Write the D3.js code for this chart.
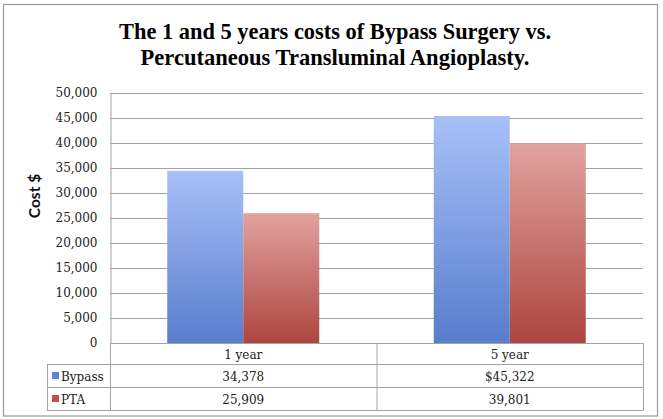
<!DOCTYPE html>
<html>
<head>
<meta charset="utf-8">
<script src="https://cdn.jsdelivr.net/npm/d3@7/dist/d3.min.js"></script>
<style>
  html, body { margin: 0; padding: 0; background: #fff; }
  svg { display: block; }
</style>
</head>
<body>
<svg id="chart" width="663" height="419"></svg>
<script>
const titleLines = ["The 1 and 5 years costs of Bypass Surgery vs.", "Percutaneous Transluminal Angioplasty."];
const categories = ["1 year", "5 year"];
const seriesNames = ["Bypass", "PTA"];
const bypassValues = [34378, 45322];
const ptaValues = [25909, 39801];
const bypassLabels = ["34,378", "$45,322"];
const ptaLabels = ["25,909", "39,801"];
const yTicks = [0, 5000, 10000, 15000, 20000, 25000, 30000, 35000, 40000, 45000, 50000];
const yTitle = "Cost $";

const seriesValues = [bypassValues, ptaValues];
const seriesLabels = [bypassLabels, ptaLabels];

const svg = d3.select("#chart");
const plot = {left: 110, right: 643, top: 92.5, bottom: 343};
const legendLeft = 47;
const rowLines = [343, 364, 387, 410];
const serif = "'DejaVu Serif', serif";
const gray = "#a3a3a3";
const fs = 12;

// gradients
const defs = svg.append("defs");
const grads = [
  {id: "gBypass", top: "#a8c0f8", bottom: "#587dcd"},
  {id: "gPTA", top: "#e2a29e", bottom: "#ad453f"}
];
grads.forEach(g => {
  const lg = defs.append("linearGradient").attr("id", g.id)
    .attr("x1", 0).attr("y1", 0).attr("x2", 0).attr("y2", 1);
  lg.append("stop").attr("offset", "0%").attr("stop-color", g.top);
  lg.append("stop").attr("offset", "100%").attr("stop-color", g.bottom);
});
const colorFill = d3.scaleOrdinal().domain(seriesNames).range(["url(#gBypass)", "url(#gPTA)"]);
const colorKey = d3.scaleOrdinal().domain(seriesNames).range(["#5d82d6", "#c0504d"]);

// outer frame
svg.append("rect").attr("x", 3.5).attr("y", 4.5).attr("width", 654).attr("height", 411.5)
  .attr("fill", "#fff").attr("stroke", "#9a9a9a").attr("stroke-width", 1.2);

// title
const titleX = 335;
const titleLens = [432, 389];
svg.selectAll("text.title").data(titleLines).join("text")
  .attr("class", "title")
  .attr("x", titleX)
  .attr("y", (d, i) => 38.5 + i * 26)
  .attr("text-anchor", "middle")
  .attr("font-family", "'Liberation Serif', 'Times New Roman', serif")
  .attr("font-weight", "bold")
  .attr("font-size", 23.5)
  .attr("textLength", (d, i) => titleLens[i])
  .attr("lengthAdjust", "spacingAndGlyphs")
  .attr("fill", "#000")
  .text(d => d);

// scales
const y = d3.scaleLinear().domain([0, 50000]).range([plot.bottom, plot.top]);
const x0 = d3.scaleBand().domain(categories).range([plot.left, plot.right]).padding(0);
const x1 = d3.scaleBand().domain(seriesNames).range([0, x0.bandwidth()]).paddingInner(0).paddingOuter(0.753);

// gridlines
svg.append("g").selectAll("line").data(yTicks).join("line")
  .attr("x1", plot.left).attr("x2", plot.right)
  .attr("y1", d => Math.round(y(d)) + 0.5).attr("y2", d => Math.round(y(d)) + 0.5)
  .attr("stroke", gray).attr("stroke-width", 1);

// y axis
const yAxis = d3.axisLeft(y).tickValues(yTicks).tickFormat(d3.format(",")).tickSize(0).tickPadding(13);
const ya = svg.append("g").attr("transform", `translate(${plot.left + 0.5},0)`).call(yAxis);
ya.select(".domain").attr("stroke", gray);
ya.selectAll("text").attr("font-family", serif).attr("font-size", fs).attr("fill", "#222");

// y title
svg.append("text")
  .attr("transform", `translate(40,196) rotate(-90)`)
  .attr("text-anchor", "middle")
  .attr("font-family", "Lato, 'Open Sans', sans-serif")
  .attr("font-weight", "bold")
  .attr("font-size", 15.5)
  .attr("fill", "#111")
  .text(yTitle);

// bars
const groups = svg.append("g").selectAll("g").data(categories).join("g")
  .attr("transform", d => `translate(${x0(d)},0)`);
groups.selectAll("rect").data((c, ci) => seriesNames.map((s, si) => ({s, v: seriesValues[si][ci]})))
  .join("rect")
  .attr("x", d => x1(d.s))
  .attr("width", x1.bandwidth())
  .attr("y", d => y(d.v))
  .attr("height", d => y(0) - y(d.v))
  .attr("fill", d => colorFill(d.s));

// data table
const tg = svg.append("g").attr("stroke", gray).attr("stroke-width", 1).attr("fill", "none");
rowLines.forEach((ry, i) => {
  tg.append("line").attr("x1", i === 0 ? plot.left : legendLeft).attr("x2", plot.right)
    .attr("y1", ry + 0.5).attr("y2", ry + 0.5);
});
const colEdges = categories.map(c => x0(c)).concat([plot.right]);
colEdges.forEach(cx => {
  tg.append("line").attr("x1", cx + 0.5).attr("x2", cx + 0.5).attr("y1", rowLines[0]).attr("y2", rowLines[3] + 0.5);
});
tg.append("line").attr("x1", legendLeft + 0.5).attr("x2", legendLeft + 0.5).attr("y1", rowLines[1]).attr("y2", rowLines[3] + 0.5);

// category header row
svg.append("g").selectAll("text").data(categories).join("text")
  .attr("x", d => x0(d) + x0.bandwidth() / 2)
  .attr("y", (rowLines[0] + rowLines[1]) / 2 + 1)
  .attr("dy", "0.35em")
  .attr("text-anchor", "middle")
  .attr("font-family", serif).attr("font-size", fs).attr("fill", "#222")
  .text(d => d);

// series rows
seriesNames.forEach((s, si) => {
  const cy = (rowLines[si + 1] + rowLines[si + 2]) / 2 + 1;
  svg.append("rect").attr("x", 52).attr("y", cy - 4.5).attr("width", 7).attr("height", 7)
    .attr("fill", colorKey(s));
  svg.append("text").attr("x", 61).attr("y", cy).attr("dy", "0.35em")
    .attr("font-family", serif).attr("font-size", fs).attr("fill", "#222").text(s);
  svg.append("g").selectAll("text").data(categories).join("text")
    .attr("x", d => x0(d) + x0.bandwidth() / 2)
    .attr("y", cy).attr("dy", "0.35em")
    .attr("text-anchor", "middle")
    .attr("font-family", serif).attr("font-size", fs).attr("fill", "#222")
    .text((d, ci) => seriesLabels[si][ci]);
});
</script>
</body>
</html>
